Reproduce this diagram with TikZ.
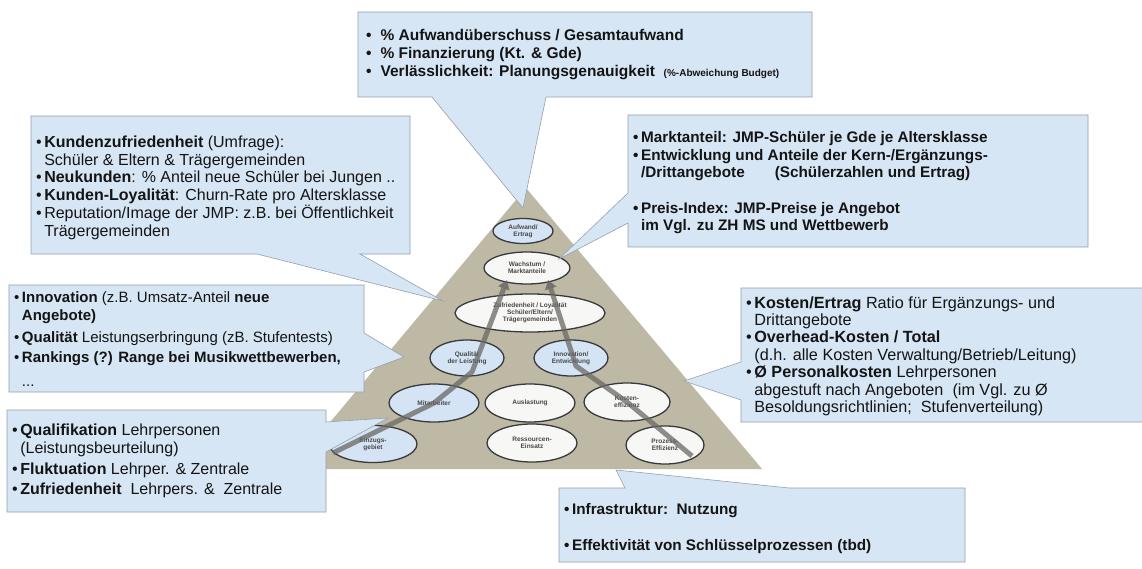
\documentclass[tikz,border=0pt]{standalone}
\usepackage{fontspec}
\setmainfont{Liberation Sans}
\usetikzlibrary{shapes.geometric,arrows.meta,calc}

\definecolor{calloutfill}{RGB}{214,230,245}
\definecolor{calloutline}{RGB}{150,160,172}
\definecolor{pyramidfill}{RGB}{190,185,165}
\definecolor{ovalblue}{RGB}{212,228,244}
\definecolor{ovalwhite}{RGB}{247,247,245}
\definecolor{ovalline}{RGB}{55,57,60}
\definecolor{txt}{RGB}{20,20,20}
\definecolor{flowgray}{RGB}{105,105,100}

\newcommand{\bul}{\textbullet}

\begin{document}
\begin{tikzpicture}[x=1pt,y=-1pt,
  boxshape/.style={rectangle,inner sep=0pt,outer sep=0pt,anchor=north west},
  callout/.style={fill=calloutfill,draw=calloutline,line width=0.6pt},
  oval/.style={ellipse,draw=ovalline,line width=1.3pt,inner sep=0pt,align=center,
    font=\fontsize{6.5}{7.2}\selectfont\bfseries,text=black!72},
  blueoval/.style={oval,fill=ovalblue},
  whiteoval/.style={oval,fill=ovalwhite},
  flowline/.style={draw=flowgray,line width=5pt,opacity=0.75,line join=round},
  boxtext/.style={anchor=base west,inner sep=0pt,text=txt},
]
\useasboundingbox (0,0) rectangle (1142,569);
\fill[white] (0,0) rectangle (1142,569);

% ---- pyramid ----
\coordinate (apex) at (526,188);
\coordinate (baseL) at (291,469);
\coordinate (baseR) at (762,469);
\fill[pyramidfill] (apex) -- (baseR) -- (baseL) -- cycle;

% ---- ovals ----
\node[blueoval, minimum width=60pt, minimum height=25pt] (ae) at (523,231) {Aufwand/\\Ertrag};
\node[whiteoval,minimum width=86pt, minimum height=32pt] (wm) at (527,268) {Wachstum /\\Marktanteile};
\node[whiteoval,minimum width=150pt,minimum height=38pt] (zl) at (530,313) {Zufriedenheit / Loyalität\\Schüler/Eltern/\\Trägergemeinden};
\node[blueoval, minimum width=74pt, minimum height=36pt] (ql) at (467,358) {Qualität\\der Leistung};
\node[blueoval, minimum width=74pt, minimum height=36pt] (ie) at (571,358) {Innovation/\\Entwicklung};
\node[blueoval, minimum width=90pt, minimum height=38pt] (ma) at (434,403) {Mitarbeiter};
\node[whiteoval,minimum width=90pt, minimum height=38pt] (au) at (530,403) {Auslastung};
\node[whiteoval,minimum width=86pt, minimum height=38pt] (ke) at (627,402) {Kosten-\\effizienz};
\node[blueoval, minimum width=88pt, minimum height=37pt] (eg) at (373,444) {Einzugs-\\gebiet};
\node[whiteoval,minimum width=90pt, minimum height=38pt] (re) at (532,443) {Ressourcen-\\Einsatz};
\node[whiteoval,minimum width=78pt, minimum height=38pt] (pe) at (665,445) {Prozess-\\Effizienz};

% ---- flow lines through the pyramid ----
\coordinate (flowLstart) at (333,453);
\coordinate (flowLbend)  at (472,372);
\coordinate (flowRstart) at (692,456);
\coordinate (flowRbend)  at (576,366);
\coordinate (flowLend) at (507,280);
\coordinate (flowRend) at (548,280);
\draw[flowline,-{Triangle[length=9pt,width=12pt]}] (flowLstart) -- (ma.center) -- (flowLbend) -- (flowLend);
\draw[flowline,-{Triangle[length=9pt,width=12pt]}] (flowRstart) -- (ke.center) -- (flowRbend) -- (flowRend);

% ---- callout boxes ----
\node[boxshape,minimum width=454pt,minimum height=85pt]  (boxT)  at (358,12)  {};
\node[boxshape,minimum width=379pt,minimum height=138pt] (boxTL) at (31,116)  {};
\node[boxshape,minimum width=460pt,minimum height=132pt] (boxRT) at (628,115) {};
\node[boxshape,minimum width=355pt,minimum height=107pt] (boxLM) at (9,285)   {};
\node[boxshape,minimum width=403pt,minimum height=134pt] (boxRM) at (741,288) {};
\node[boxshape,minimum width=319pt,minimum height=102pt] (boxBL) at (7,410)   {};
\node[boxshape,minimum width=406pt,minimum height=74pt]  (boxB)  at (559,488) {};

% pointer tips
\coordinate (tipT)  at (523,208);
\coordinate (tipTL) at (443,301);
\coordinate (tipRT) at (559,259);
\coordinate (tipLM) at (404,357);
\coordinate (tipRM) at (684,381);
\coordinate (tipBL) at (388,418);
\coordinate (tipB)  at (616,470);

% outlines: rectangle with the pointer merged into one edge
\draw[callout] (boxT.north west) -- (boxT.north east) -- (boxT.south east)
  -- ($(boxT.south west)+(188,0)$) -- (tipT) -- ($(boxT.south west)+(74,0)$) -- (boxT.south west) -- cycle;
\draw[callout] (boxTL.north west) -- (boxTL.north east) -- (boxTL.south east)
  -- ($(boxTL.south west)+(329,0)$) -- (tipTL) -- ($(boxTL.south west)+(226,0)$) -- (boxTL.south west) -- cycle;
\draw[callout] (boxRT.north west) -- (boxRT.north east) -- (boxRT.south east) -- (boxRT.south west)
  -- ($(boxRT.north west)+(0,108)$) -- (tipRT) -- ($(boxRT.north west)+(0,78)$) -- cycle;
\draw[callout] (boxLM.north west) -- (boxLM.north east) -- ($(boxLM.north east)+(0,48)$) -- (tipLM)
  -- ($(boxLM.north east)+(0,87)$) -- (boxLM.south east) -- (boxLM.south west) -- cycle;
\draw[callout] (boxRM.north west) -- (boxRM.north east) -- (boxRM.south east) -- (boxRM.south west)
  -- ($(boxRM.north west)+(0,112)$) -- (tipRM) -- ($(boxRM.north west)+(0,74)$) -- cycle;
\draw[callout] (boxBL.north west) -- (boxBL.north east) -- ($(boxBL.north east)+(0,12)$) -- (tipBL)
  -- ($(boxBL.north east)+(0,42)$) -- (boxBL.south east) -- (boxBL.south west) -- cycle;
\draw[callout] (boxB.north west) -- ($(boxB.north west)+(66,0)$) -- (tipB) -- ($(boxB.north west)+(230,0)$)
  -- (boxB.north east) -- (boxB.south east) -- (boxB.south west) -- cycle;

% ---- callout texts ----
\node[boxtext,font=\fontsize{15.5}{18}\selectfont\bfseries] (tT) at (366,41) {%
\begin{tabular}[t]{@{}l@{\hspace{9pt}}l@{}}
\bul & \% Aufwandüberschuss / Gesamtaufwand\\
\bul & \% Finanzierung (Kt. \& Gde)\\
\bul & Verlässlichkeit: Planungsgenauigkeit \ {\fontsize{10}{18}\selectfont(\%-Abweichung Budget)}
\end{tabular}};

\node[boxtext,font=\fontsize{16}{17.4}\selectfont] (tTL) at (36,148) {%
\begin{tabular}[t]{@{}l@{\hspace{2.5pt}}l@{}}
\bul & \textbf{Kundenzufriedenheit} (Umfrage):\\
 & Schüler \& Eltern \& Trägergemeinden\\
\bul & \textbf{Neukunden}: \% Anteil neue Schüler bei Jungen ..\\
\bul & \textbf{Kunden-Loyalität}: Churn-Rate pro Altersklasse\\
\bul & Reputation/Image der JMP: z.B. bei Öffentlichkeit\\
 & Trägergemeinden
\end{tabular}};

\node[boxtext,font=\fontsize{15.3}{17.5}\selectfont\bfseries] (tRT) at (633,143) {%
\begin{tabular}[t]{@{}l@{\hspace{2.5pt}}l@{}}
\bul & Marktanteil: JMP-Schüler je Gde je Altersklasse\\
\bul & Entwicklung und Anteile der Kern-/Ergänzungs-\\
 & /Drittangebote\hspace{30pt}(Schülerzahlen und Ertrag)\\[18pt]
\bul & Preis-Index: JMP-Preise je Angebot\\
 & im Vgl. zu ZH MS und Wettbewerb
\end{tabular}};

\node[boxtext,font=\fontsize{15}{18.5}\selectfont] (tLM) at (14,302) {%
\begin{tabular}[t]{@{}l@{\hspace{2.5pt}}l@{}}
\bul & \textbf{Innovation} (z.B. Umsatz-Anteil \textbf{neue}\\
 & \textbf{Angebote)}\\[3pt]
\bul & \textbf{Qualität} Leistungserbringung (zB. Stufentests)\\[2pt]
\bul & \textbf{Rankings (?) Range bei Musikwettbewerben,}\\[5pt]
 & ...
\end{tabular}};

\node[boxtext,font=\fontsize{16.2}{17.4}\selectfont] (tRM) at (746,308) {%
\begin{tabular}[t]{@{}l@{\hspace{2.5pt}}l@{}}
\bul & \textbf{Kosten/Ertrag} Ratio für Ergänzungs- und\\
 & Drittangebote\\
\bul & \textbf{Overhead-Kosten / Total}\\
 & (d.h. alle Kosten Verwaltung/Betrieb/Leitung)\\
\bul & \textbf{Ø Personalkosten} Lehrpersonen\\
 & abgestuft nach Angeboten\ \ (im Vgl. zu Ø\\
 & Besoldungsrichtlinien;\ \ Stufenverteilung)
\end{tabular}};

\node[boxtext,font=\fontsize{16}{18}\selectfont] (tBL) at (12,435) {%
\begin{tabular}[t]{@{}l@{\hspace{2.5pt}}l@{}}
\bul & \textbf{Qualifikation} Lehrpersonen\\
 & (Leistungsbeurteilung)\\[3pt]
\bul & \textbf{Fluktuation} Lehrper. \& Zentrale\\[2pt]
\bul & \textbf{Zufriedenheit}\ \ Lehrpers. \&\ \ Zentrale
\end{tabular}};

\node[boxtext,font=\fontsize{15.3}{18}\selectfont\bfseries] (tB) at (564,514) {%
\begin{tabular}[t]{@{}l@{\hspace{2.5pt}}l@{}}
\bul & Infrastruktur:\ \ Nutzung\\[18pt]
\bul & Effektivität von Schlüsselprozessen (tbd)
\end{tabular}};
\end{tikzpicture}
\end{document}
